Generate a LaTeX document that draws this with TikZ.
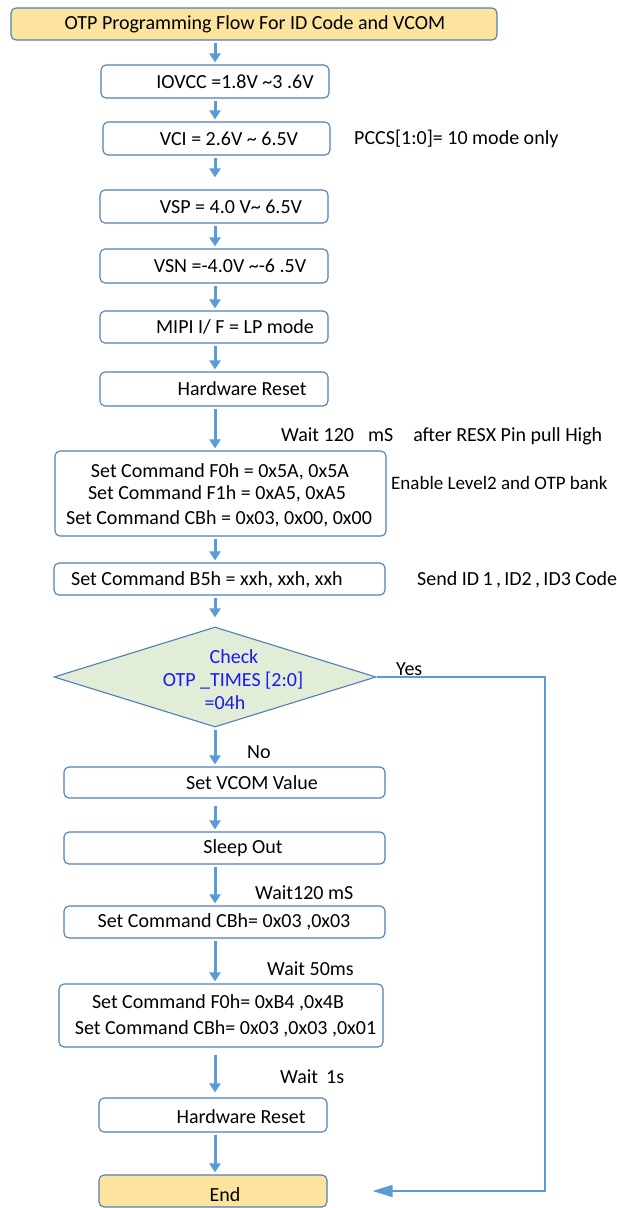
\documentclass[tikz,border=0pt]{standalone}
\usepackage{fontspec}
\setmainfont{Carlito}
\usetikzlibrary{arrows.meta,shapes.geometric}
\definecolor{bord}{HTML}{4F7FB8}
\definecolor{arr}{HTML}{5B9BD5}
\definecolor{ylw}{HTML}{FCE49E}
\definecolor{grn}{HTML}{E2EDD8}
\definecolor{dtxt}{HTML}{1A1AF0}
\begin{document}
\begin{tikzpicture}[x=1pt,y=-1pt,
  box/.style={draw=bord,line width=1.1pt,rounded corners=5pt,fill=white,inner sep=0pt},
  txt/.style={font=\fontsize{20}{23}\selectfont,inner sep=0pt,anchor=center},
  lbl/.style={font=\fontsize{20}{23}\selectfont,inner sep=0pt,anchor=west},
  flow/.style={draw=arr,line width=3pt,shorten <=2pt,shorten >=2pt,-{Triangle[length=9pt,width=11pt]}},
  yesline/.style={draw=arr,line width=1.5pt,-{Triangle[length=20pt,width=12pt]}}]
\useasboundingbox (0,0) rectangle (617,1208);
\clip (0,0) rectangle (617,1208);
\coordinate (ax) at (215,0);
% boxes
\node[box,fill=ylw,minimum width=486pt,minimum height=32pt] (title) at (254,24) {};
\node[box,minimum width=228pt,minimum height=33pt] (iovcc) at (215,81.5) {};
\node[box,minimum width=227pt,minimum height=33pt] (vci) at (216.5,138.5) {};
\node[box,minimum width=228pt,minimum height=33pt] (vsp) at (214,206.5) {};
\node[box,minimum width=228pt,minimum height=34pt] (vsn) at (214,266) {};
\node[box,minimum width=228pt,minimum height=32pt] (mipi) at (214,327) {};
\node[box,minimum width=228pt,minimum height=34pt] (hw1) at (214,389) {};
\node[box,minimum width=331pt,minimum height=85pt] (lvl) at (220.5,493.5) {};
\node[box,minimum width=331pt,minimum height=32pt] (bfive) at (219.5,579) {};
\node[draw=bord,line width=1.1pt,fill=grn,diamond,inner sep=0pt,minimum width=322pt,minimum height=100pt] (dia) at (215,677) {};
\node[box,minimum width=321pt,minimum height=31pt] (vcom) at (224.5,782.5) {};
\node[box,minimum width=321pt,minimum height=32pt] (sleep) at (224.5,848) {};
\node[box,minimum width=321pt,minimum height=32pt] (cbh) at (224.5,922) {};
\node[box,minimum width=324pt,minimum height=63pt] (fzero) at (221,1015.5) {};
\node[box,minimum width=228pt,minimum height=34pt] (hw2) at (213,1115) {};
\node[box,fill=ylw,minimum width=228pt,minimum height=32pt] (fin) at (213,1191) {};
% texts in boxes
\node[txt] (ttitle) at (255,24) {OTP Programming Flow For ID Code and VCOM};
\node[txt] (tiovcc) at (235,82) {IOVCC =1.8V \textasciitilde3 .6V};
\node[txt] (tvci) at (229,139) {VCI = 2.6V \textasciitilde{} 6.5V};
\node[txt] (tvsp) at (231,207) {VSP = 4.0 V\textasciitilde{} 6.5V};
\node[txt] (tvsn) at (230,266) {VSN =-4.0V \textasciitilde-6 .5V};
\node[txt] (tmipi) at (235,327) {MIPI I/ F = LP mode};
\node[txt] (thwa) at (242,389) {Hardware Reset};
\node[txt] (tla) at (220,472) {Set Command F0h = 0x5A, 0x5A};
\node[txt] (tlb) at (217,494) {Set Command F1h = 0xA5, 0xA5};
\node[txt] (tlc) at (219,519) {Set Command CBh = 0x03, 0x00, 0x00};
\node[txt] (tbfive) at (207,580) {Set Command B5h = xxh, xxh, xxh};
\node[txt,text=dtxt] (tda) at (234,657) {Check};
\node[txt,text=dtxt] (tdb) at (233,681) {OTP \_TIMES [2:0]};
\node[txt,text=dtxt] (tdc) at (225,703) {=04h};
\node[txt] (tvcom) at (252,783) {Set VCOM Value};
\node[txt] (tsleep) at (243,848) {Sleep Out};
\node[txt] (tcbh) at (224,922) {Set Command CBh= 0x03 ,0x03};
\node[txt] (tfa) at (218,1003) {Set Command F0h= 0xB4 ,0x4B};
\node[txt] (tfb) at (225.5,1029) {Set Command CBh= 0x03 ,0x03 ,0x01};
\node[txt] (thwb) at (241,1117) {Hardware Reset};
\node[txt] (tfin) at (225,1195) {End};
% side labels
\node[lbl] (pccs) at (354,139) {PCCS[1:0]= 10 mode only};
\node[lbl] (waita) at (281,436) {Wait 120\hspace{14pt}mS\hspace{20pt}after RESX Pin pull High};
\node[lbl,font=\fontsize{19}{23}\selectfont] (enab) at (391,483) {Enable Level2 and OTP bank};
\node[lbl] (send) at (417,580) {Send ID\,1\,,\,ID2\,,\,ID3 Code};
\node[lbl] (yes) at (396,669) {Yes};
\node[lbl] (no) at (247,752) {No};
\node[lbl] (waitb) at (255,893) {Wait120 mS};
\node[lbl] (waitc) at (267,969) {Wait 50ms};
\node[lbl] (waitd) at (280,1077) {Wait\hspace{8pt}1s};
% connectors
\draw[flow] (title.south -| ax) -- (iovcc.north -| ax);
\draw[flow] (iovcc.south -| ax) -- (vci.north -| ax);
\draw[flow] (vci.south -| ax) -- ([yshift=10pt]vsp.north -| ax);
\draw[flow] (vsp.south -| ax) -- (vsn.north -| ax);
\draw[flow] (vsn.south -| ax) -- (mipi.north -| ax);
\draw[flow] (mipi.south -| ax) -- (hw1.north -| ax);
\draw[flow] (hw1.south -| ax) -- (lvl.north -| ax);
\draw[flow] (lvl.south -| ax) -- (bfive.north -| ax);
\draw[flow] (bfive.south -| ax) -- ([yshift=7pt]dia.north);
\draw[flow] (dia.south) -- (vcom.north -| ax);
\draw[flow] ([yshift=-5pt]vcom.south -| ax) -- (sleep.north -| ax);
\draw[flow] (sleep.south -| ax) -- (cbh.north -| ax);
\draw[flow] (cbh.south -| ax) -- (fzero.north -| ax);
\draw[flow] ([yshift=-5pt]fzero.south -| ax) -- ([yshift=3pt]hw2.north -| ax);
\draw[flow] (hw2.south -| ax) -- (fin.north -| ax);
\coordinate (tip) at ([xshift=45pt]fin.east);
\coordinate (corner) at (545,0);
\draw[yesline] (dia.east) -| (corner |- tip) -- (tip);
\end{tikzpicture}
\end{document}
